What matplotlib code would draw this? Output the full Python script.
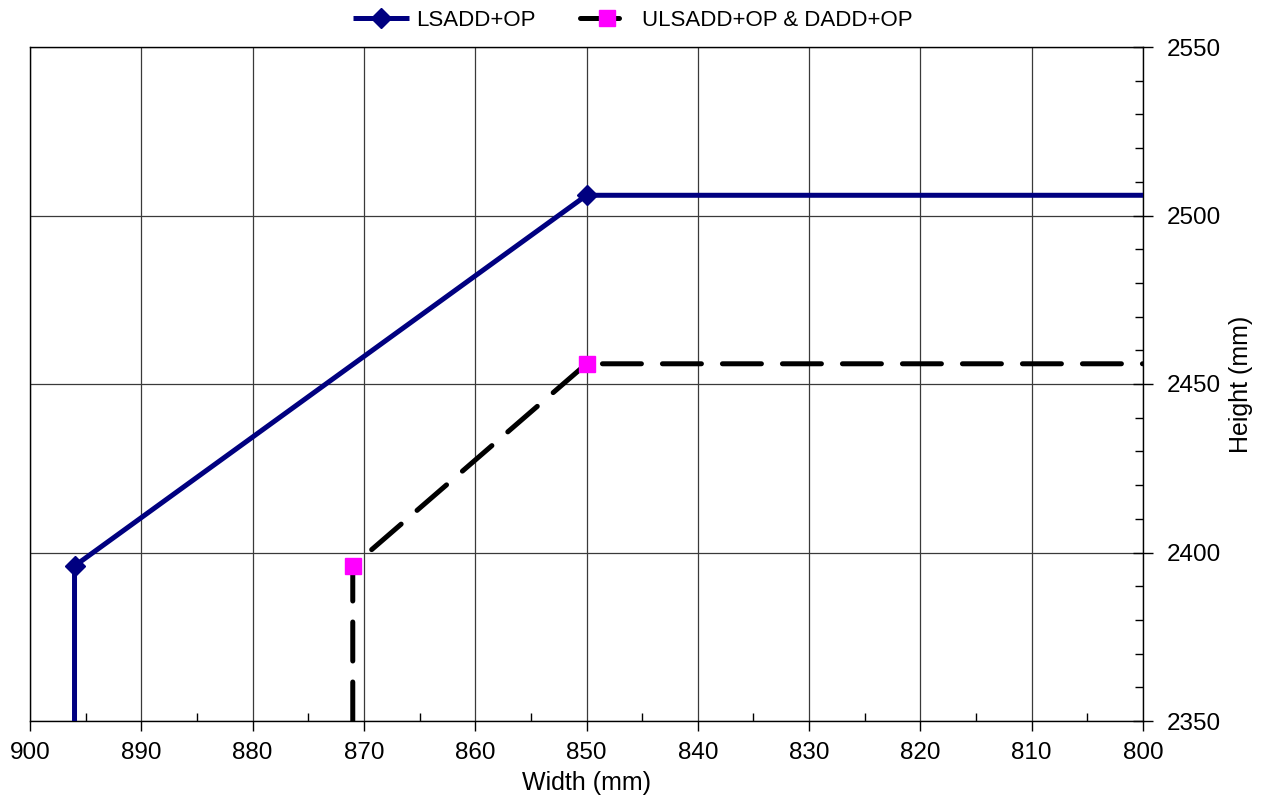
import matplotlib

matplotlib.use("Agg")
import matplotlib.pyplot as plt
from matplotlib.ticker import MultipleLocator

plt.rcParams["font.family"] = ["Liberation Sans", "DejaVu Sans"]

# series
lsadd_width = [896, 896, 850, 800]
lsadd_height = [2350, 2396, 2506, 2506]
ulsadd_width = [871, 871, 850, 800]
ulsadd_height = [2350, 2396, 2456, 2456]
marked_points = [1, 2]

x_ticks = list(range(900, 799, -10))
y_ticks = [2350, 2400, 2450, 2500, 2550]

fig = plt.figure(figsize=(12.66, 7.96), dpi=100)
ax = fig.add_axes([30 / 1266, 1 - 721 / 796, (1143 - 30) / 1266, (721 - 47) / 796])

ax.plot(lsadd_width, lsadd_height, color="#000080", linewidth=3.6,
        marker="D", markersize=10, markevery=marked_points,
        solid_capstyle="butt", label="LSADD+OP", zorder=3)
line2, = ax.plot(ulsadd_width, ulsadd_height, color="black", linewidth=3.6,
                 marker="s", markersize=12, markevery=marked_points,
                 markerfacecolor="#ff00ff", markeredgecolor="#ff00ff",
                 dash_capstyle="round", label="ULSADD+OP & DADD+OP", zorder=3)
line2.set_dashes((7.8, 4.2))

ax.set_xlim(900, 800)
ax.set_ylim(2350, 2550)
ax.set_xticks(x_ticks)
ax.set_yticks(y_ticks)
ax.xaxis.set_minor_locator(MultipleLocator(5))
ax.yaxis.set_minor_locator(MultipleLocator(10))
ax.yaxis.tick_right()
ax.yaxis.set_label_position("right")

ax.grid(True, which="major", color="#3a3a3a", linewidth=0.9)
ax.tick_params(axis="x", which="major", direction="out", length=7, width=1,
               labelsize=17.5, pad=8)
ax.tick_params(axis="x", which="minor", direction="in", length=6, width=1)
ax.tick_params(axis="y", which="major", direction="inout", length=14, width=1,
               labelsize=17.5, pad=10)
ax.tick_params(axis="y", which="minor", direction="in", length=6, width=1)
for side in ax.spines.values():
    side.set_linewidth(1.0)
    side.set_color("black")

ax.set_xlabel("Width (mm)", fontsize=18, labelpad=5)
ax.set_ylabel("Height (mm)", fontsize=18, labelpad=6)

fig.legend(loc="center", bbox_to_anchor=(0.5, 1 - 20 / 796), ncol=2,
           frameon=False, prop={"family": ["Liberation Sans Narrow", "Liberation Sans"], "size": 16},
           handlelength=2.5, columnspacing=2.0, handletextpad=0.3)

fig.savefig("out.png", dpi=100)
plt.close(fig)
